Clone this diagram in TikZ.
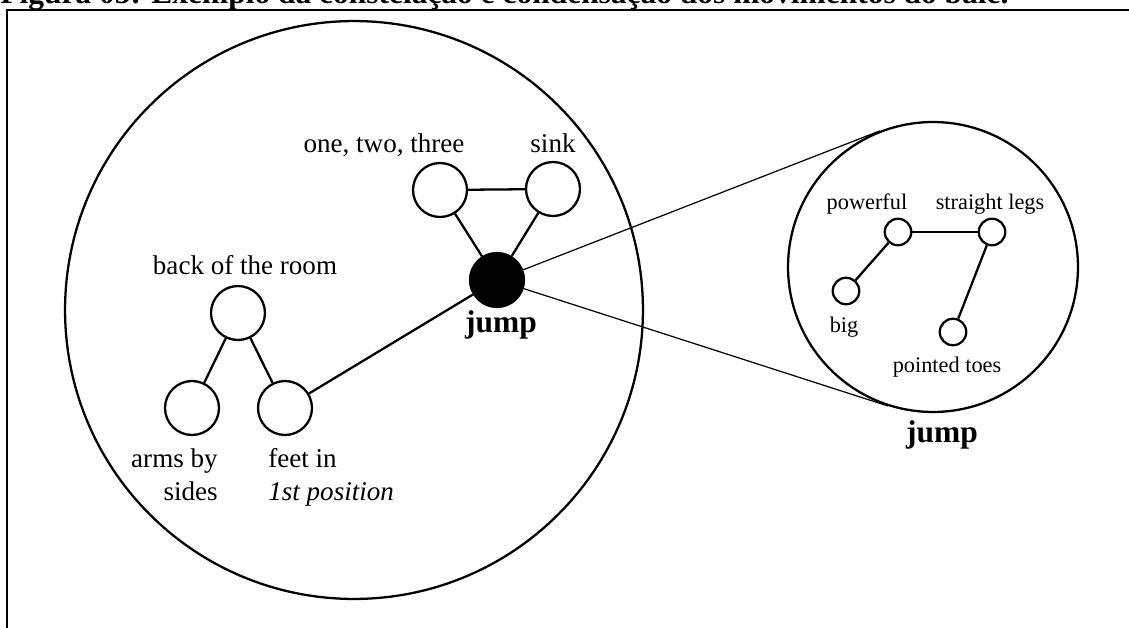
\documentclass[tikz,border=0pt]{standalone}
\usepackage{fontspec}
\setmainfont{Liberation Serif}
\usetikzlibrary{calc}

\tikzset{
	idea/.style={circle, draw, line width=1.3pt, minimum size=1.08cm, inner sep=0pt},
	small idea/.style={circle, draw, line width=1.3pt, minimum size=0.53cm, inner sep=0pt},
	link/.style={line width=1.3pt},
	word/.style={inner sep=0pt, font=\fontsize{15.4}{19}\selectfont},
	small word/.style={inner sep=0pt, font=\fontsize{12.7}{15}\selectfont},
	title word/.style={inner sep=0pt, font=\fontsize{17.9}{21}\selectfont\bfseries},
}

\begin{document}
\begin{tikzpicture}[x=0.02cm, y=-0.02cm]
	\useasboundingbox (0,0) rectangle (1129,628);
	
	% caption and frame
	\node[title word, anchor=base west] (caption) at (0,4) {Figura 05: Exemplo da constelação e condensação dos movimentos do balé.};
	\draw[line width=1.5pt] (7,640) |- (1135,10);
	
	% the constellation
	\node[circle, draw, line width=1.3pt, minimum size=11.56cm] (C) at (354,310) {};
	
	\node[idea] (A) at (238,313) {};
	\node[idea] (B) at (192,408) {};
	\node[idea] (F) at (285,408) {};
	\node[idea] (O) at (440,190) {};
	\node[idea] (S) at (553,189) {};
	\node[idea, fill=black] (J) at (497,280) {};
	
	\node[word, anchor=base] (Alab) at (245,275) {back of the room};
	\node[word, anchor=north east, align=right] (Blab) at (218,448) {arms by\\sides};
	\node[word, anchor=north west, align=left] (Flab) at (268,448) {feet in\\\textit{1st position}};
	\node[word, anchor=base] (Olab) at (384,153) {one, two, three};
	\node[word, anchor=base] (Slab) at (553,153) {sink};
	\node[title word, anchor=base] (Jlab) at (501,332) {jump};
	
	\draw[link] (A) -- (B);
	\draw[link] (A) -- (F);
	\draw[link] (F) -- (J);
	\draw[link] (O) -- (S);
	\draw[link] (O) -- (J);
	\draw[link] (S) -- (J);
	
	% close-up of the jump
	\node[circle, draw, line width=1.3pt, minimum size=5.8cm] (Z) at (933,267) {};
	
	\node[small idea] (P) at (898,232) {};
	\node[small idea] (L) at (992,232) {};
	\node[small idea] (G) at (846,291) {};
	\node[small idea] (T) at (953,332) {};
	
	\node[small word, anchor=base] (Plab) at (867,210) {powerful};
	\node[small word, anchor=base] (Llab) at (990,210) {straight legs};
	\node[small word, anchor=base] (Glab) at (844,332) {big};
	\node[small word, anchor=base] (Tlab) at (947,372) {pointed toes};
	\node[title word, anchor=base] (Zlab) at (942,442) {jump};
	
	\draw[link] (P) -- (L);
	\draw[link] (P) -- (G);
	\draw[link] (L) -- (T);
	
	\coordinate (t1) at (tangent cs:node=Z,point={(J.center)},solution=1);
	\coordinate (t2) at (tangent cs:node=Z,point={(J.center)},solution=2);
	\draw[line width=0.7pt] (J) -- (t1);
	\draw[line width=0.7pt] (J) -- (t2);
\end{tikzpicture}
\end{document}
